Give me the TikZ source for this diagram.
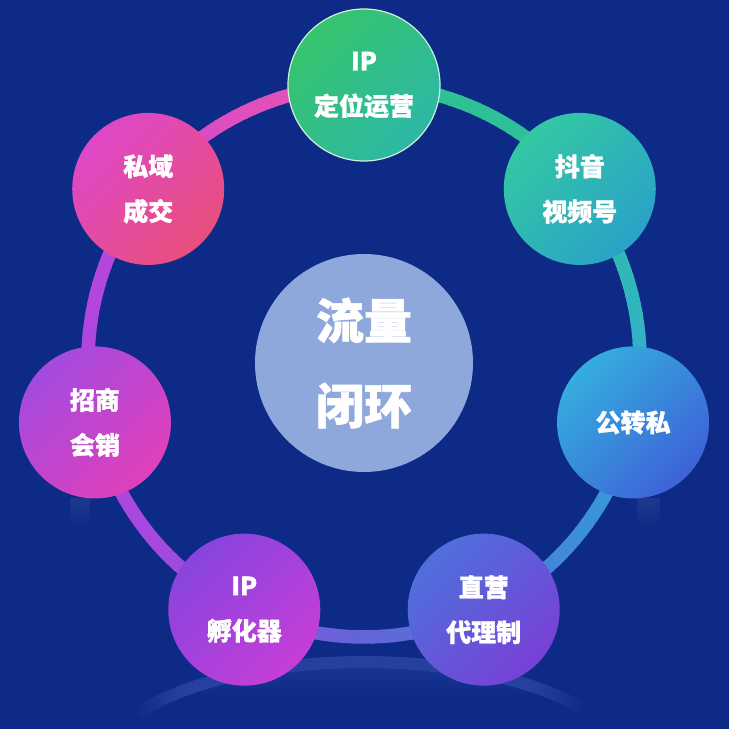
\documentclass[tikz,border=0pt]{standalone}
\usepackage{fontspec}
\newfontfamily\cjk{Noto Sans CJK SC}[BoldFeatures={FakeBold=1.2}]
\usetikzlibrary{fadings}
\definecolor{bg}{HTML}{0C2A86}
\definecolor{hubc}{HTML}{8EA8DC}
\definecolor{glowc}{HTML}{7482EA}
% ring stops
\definecolor{r0}{HTML}{2EC48A}
\definecolor{r1}{HTML}{2EBCA8}
\definecolor{r2}{HTML}{34B0CC}
\definecolor{r3}{HTML}{3A90DA}
\definecolor{r4}{HTML}{6464DA}
\definecolor{r5}{HTML}{A848DE}
\definecolor{r6}{HTML}{B446DE}
\definecolor{r7}{HTML}{DE4EC0}
\definecolor{r8}{HTML}{E852B0}
% node fills
\definecolor{a0}{HTML}{36C46C}\definecolor{b0}{HTML}{2DB8A6}
\definecolor{a1}{HTML}{33C8A2}\definecolor{b1}{HTML}{2AA2C8}
\definecolor{a2}{HTML}{34AEDE}\definecolor{b2}{HTML}{3E62D8}
\definecolor{a3}{HTML}{4E70DC}\definecolor{b3}{HTML}{7840D6}
\definecolor{a4}{HTML}{8844DE}\definecolor{b4}{HTML}{C63ED8}
\definecolor{a5}{HTML}{A44AE0}\definecolor{b5}{HTML}{E040BA}
\definecolor{a6}{HTML}{DE48C8}\definecolor{b6}{HTML}{E84E7C}
\begin{document}
\begin{tikzpicture}[x=1pt,y=1pt,
  nodecirc/.style={circle, minimum size=152pt, inner sep=0pt, align=center,
    text=white, font=\cjk\bfseries\fontsize{25}{45}\selectfont},
  grad/.style 2 args={top color=#1, bottom color=#2, shading angle=45},
  ringseg/.style={line width=13.5pt, line cap=butt},
  hubstyle/.style={circle, fill=hubc, minimum size=218pt, inner sep=0pt,
    align=center, text=white, font=\cjk\bfseries\fontsize{48}{85}\selectfont}]
\fill[bg] (0,0) rectangle (729,729);
\useasboundingbox (0,0) rectangle (729,729);
\coordinate (c) at (364,368);
\coordinate (e) at (364,-35);
% faint reflection below
\foreach \t in {32,34,...,148} {
  \pgfmathsetmacro\o{0.26*min(1,min((\t-31)/18,(151-\t)/18))}
  \pgfmathsetmacro\u{\t+2}
  \draw[glowc, line width=12pt, line cap=butt, opacity=\o]
    ([shift={(\t:260 and 102)}]e) arc[start angle=\t, end angle=\u, x radius=260, y radius=102];
}
\begin{scope}
  \clip (e) ellipse [x radius=254, y radius=96];
  \fill[glowc, opacity=0.14, path fading=south] (200,67) rectangle (530,30);
\end{scope}
\fill[white, opacity=0.07, path fading=south] (70,231) rectangle (90,200);
\fill[white, opacity=0.07, path fading=south] (637,231) rectangle (660,200);
% gradient ring
\foreach \ca/\cb/\ts/\te in {r0/r1/0/60, r1/r2/60/90, r2/r3/90/126, r3/r4/126/180,
    r4/r5/180/230, r5/r6/230/290, r6/r7/290/330, r7/r8/330/360} {
  \pgfmathtruncatemacro\n{(\te-\ts)/2}
  \foreach \k in {1,...,\n} {
    \pgfmathtruncatemacro\p{100*(\k-0.5)/\n}
    \pgfmathsetmacro\a{90-\ts-(\k-1)*2}
    \pgfmathsetmacro\b{\a-2.4}
    \draw[ringseg, color=\cb!\p!\ca] ([shift={(\a:276)}]c) arc[start angle=\a, end angle=\b, radius=276];
  }
}
% hub
\node[hubstyle] (hub) at (364,366) {流量\\闭环};
% ring nodes
\node[nodecirc, grad={a0}{b0}, draw=white!75!a0, line width=1.2pt] (n0) at ([shift={(90:276)}]c) {IP\\定位运营};
\node[nodecirc, grad={a1}{b1}] (n1) at ([shift={(38.57:276)}]c) {抖音\\视频号};
\node[nodecirc, grad={a2}{b2}] (n2) at ([shift={(-12.86:276)}]c) {公转私};
\node[nodecirc, grad={a3}{b3}] (n3) at ([shift={(-64.29:276)}]c) {直营\\代理制};
\node[nodecirc, grad={a4}{b4}] (n4) at ([shift={(-115.71:276)}]c) {IP\\孵化器};
\node[nodecirc, grad={a5}{b5}] (n5) at ([shift={(-167.14:276)}]c) {招商\\会销};
\node[nodecirc, grad={a6}{b6}] (n6) at ([shift={(141.43:276)}]c) {私域\\成交};
\end{tikzpicture}
\end{document}
